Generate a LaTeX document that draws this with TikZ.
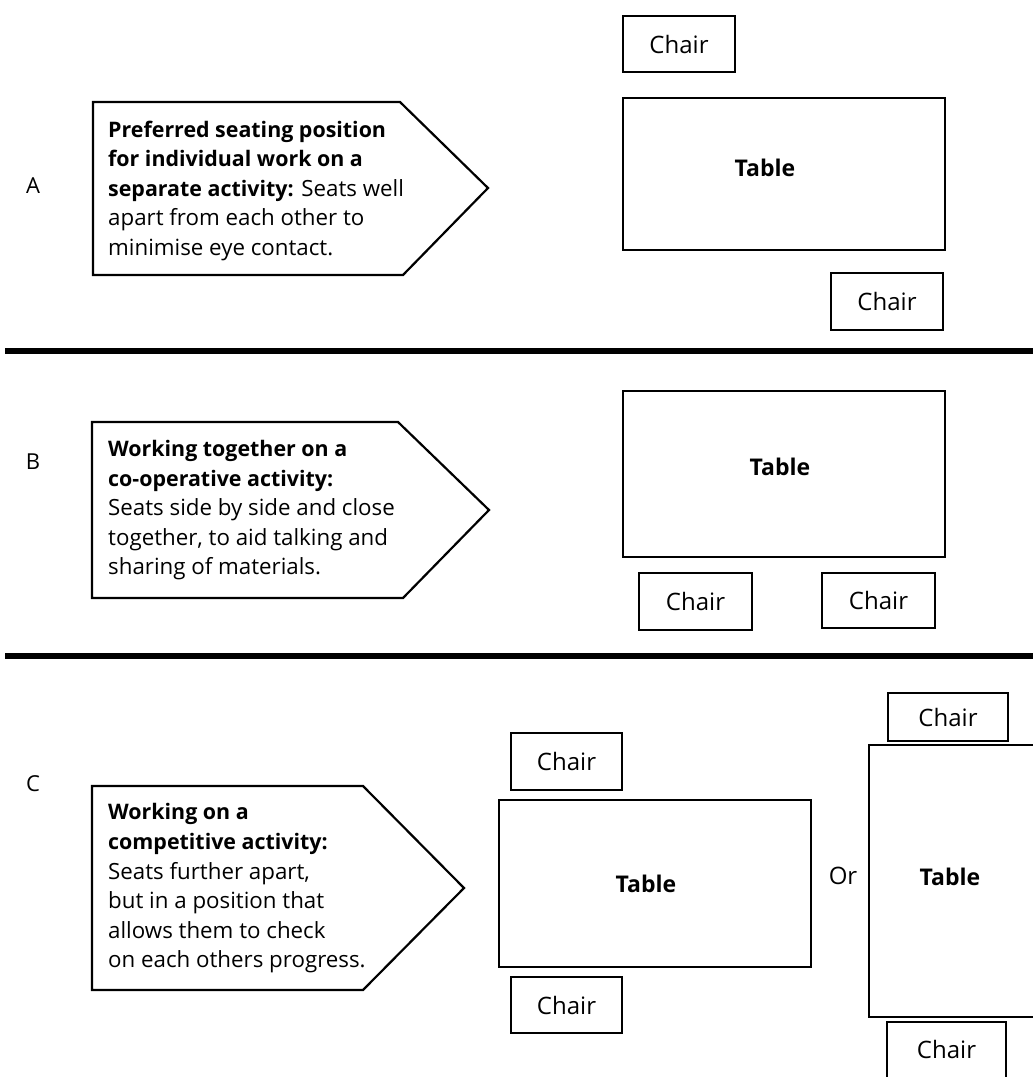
\documentclass[tikz,border=0pt]{standalone}
\usepackage{fontspec}
\setmainfont{Open Sans}
\newcommand{\hd}[1]{{\fontsize{21.4}{29.6}\selectfont\bfseries #1}}
\begin{document}
\begin{tikzpicture}[x=1pt,y=-1pt,
  box/.style={draw, line width=2.1pt, inner sep=0pt},
  chairbox/.style={box, font=\fontsize{24}{28}\selectfont},
  tablebox/.style={box},
  tlabel/.style={font=\bfseries\fontsize{23}{27}\selectfont, inner sep=0pt},
  rowlabel/.style={font=\fontsize{22}{26}\selectfont, inner sep=0pt},
  note/.style={font=\fontsize{22.3}{29.6}\selectfont, align=left, anchor=north west, inner sep=0pt},
  arrowbox/.style={draw, line width=2.2pt, line join=miter},
  sep/.style={line width=6pt}]
\useasboundingbox (0,0) rectangle (1033,1077);
\clip (0,0) rectangle (1033,1077);

% separators
\coordinate (s1a) at (5,351); \coordinate (s1b) at (1040,351);
\coordinate (s2a) at (5,655.5); \coordinate (s2b) at (1040,655.5);
\draw[sep] (s1a) -- (s1b);
\draw[sep] (s2a) -- (s2b);

% row labels
\node[rowlabel] (lA) at (33,186) {A};
\node[rowlabel] (lB) at (33,462) {B};
\node[rowlabel] (lC) at (33,784) {C};

% ---------- A ----------
\draw[arrowbox] (93,102) -- (400,102) -- (488,188) -- (403,275) -- (93,275) -- cycle;
\node[note] (nA) at (108,120.5) {\hd{Preferred seating position}\\\hd{for individual work on a}\\\hd{separate activity:} Seats well\\apart from each other to\\minimise eye contact.};

\node[chairbox, minimum width=112pt, minimum height=56pt] (cA1) at (679,44) {Chair};
\node[tablebox, minimum width=322pt, minimum height=152pt] (tA) at (784,174) {};
\node[tlabel] (tAl) at (765,168) {Table};
\node[chairbox, minimum width=112pt, minimum height=57pt] (cA2) at (887,301.5) {Chair};

% ---------- B ----------
\draw[arrowbox] (92,422) -- (398,422) -- (489,510) -- (403,598) -- (92,598) -- cycle;
\node[note] (nB) at (108,440) {\hd{Working together on a}\\\hd{co-operative activity:}\\Seats side by side and close\\together, to aid talking and\\sharing of materials.};

\node[tablebox, minimum width=322pt, minimum height=166pt] (tB) at (784,474) {};
\node[tlabel] (tBl) at (780,467) {Table};
\node[chairbox, minimum width=113pt, minimum height=57pt] (cB1) at (695.5,601.5) {Chair};
\node[chairbox, minimum width=113pt, minimum height=55pt] (cB2) at (878.5,600.5) {Chair};

% ---------- C ----------
\draw[arrowbox] (92,786) -- (363,786) -- (464,888) -- (363,990) -- (92,990) -- cycle;
\node[note] (nC) at (108,803.5) {\hd{Working on a}\\\hd{competitive activity:}\\Seats further apart,\\but in a position that\\allows them to check\\on each others progress.};

\node[chairbox, minimum width=111pt, minimum height=57pt] (cC1) at (566.5,761.5) {Chair};
\node[tablebox, minimum width=312pt, minimum height=167pt] (tC1) at (655,883.5) {};
\node[tlabel] (tC1l) at (646,884) {Table};
\node[chairbox, minimum width=111pt, minimum height=56pt] (cC2) at (566.5,1005) {Chair};

\node[rowlabel, font=\fontsize{24}{28}\selectfont] (or) at (843,876) {Or};

\node[chairbox, minimum width=120pt, minimum height=48pt] (cC3) at (948,717) {Chair};
\node[tablebox, minimum width=171pt, minimum height=272pt] (tC2) at (954.5,881) {};
\node[tlabel] (tC2l) at (950,877) {Table};
\node[chairbox, minimum width=119pt, minimum height=68pt] (cC4) at (946.5,1056) {};
\node[font=\fontsize{24}{28}\selectfont, inner sep=0pt] (cC4l) at (946.5,1049) {Chair};
\end{tikzpicture}
\end{document}
